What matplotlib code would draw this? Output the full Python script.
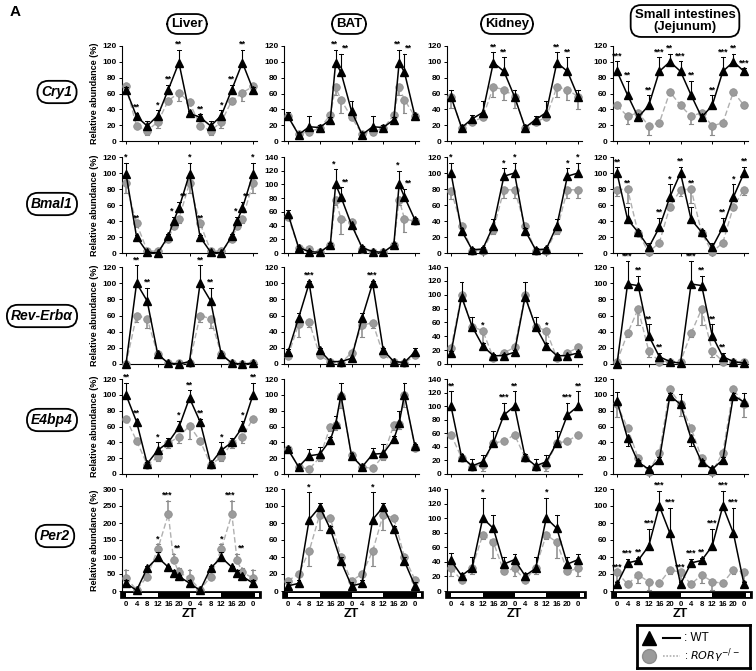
import matplotlib.pyplot as plt
from matplotlib.patches import Rectangle
import matplotlib.transforms as mtransforms

plt.rcParams['font.family'] = ['Liberation Sans', 'DejaVu Sans']

# sampling times (ZT, two days)
X13 = [0, 4, 8, 12, 16, 20, 24, 28, 32, 36, 40, 44, 48]
X15 = [0, 4, 8, 12, 16, 18, 20, 24, 28, 32, 36, 40, 42, 44, 48]
zt_labels = ['0', '4', '8', '12', '16', '20', '0', '4', '8', '12', '16', '20', '0']

tissues = ['Liver', 'BAT', 'Kidney', 'Small intestines\n(Jejunum)']
genes = ['Cry1', 'Bmal1', 'Rev-Erbα', 'E4bp4', 'Per2']

# ---- Cry1 ----
liver_cry1_wt = [65, 31, 19, 32, 65, 99, 35, 30, 19, 32, 65, 99, 65]
liver_cry1_ko = [69, 19, 13, 24, 51, 61, 49, 19, 13, 24, 51, 61, 69]
liver_cry1_ewt = [3, 5, 6, 7, 6, 16, 3, 4, 6, 7, 6, 16, 3]
liver_cry1_eko = [-3, -3, -6, -8, -4, -10, -4, -3, -6, -8, -4, -10, -3]
liver_cry1_stars = {1: '**', 3: '*', 4: '**', 5: '**', 7: '**', 9: '*', 10: '**', 11: '**'}

bat_cry1_wt = [31, 8, 18, 17, 27, 99, 87, 38, 8, 18, 17, 27, 99, 87, 31]
bat_cry1_ko = [31, 9, 12, 16, 33, 68, 52, 30, 9, 12, 16, 33, 68, 52, 31]
bat_cry1_ewt = [6, 3, 13, 3, 3, 16, 23, 13, 3, 13, 3, 3, 16, 23, 3]
bat_cry1_eko = [-3, -3, -5, -3, -3, -10, -16, -3, -3, -5, -3, -3, -10, -16, -3]
bat_cry1_stars = {5: '**', 6: '**', 12: '**', 13: '**'}

kidney_cry1_wt = [56, 17, 28, 36, 99, 88, 56, 17, 27, 36, 99, 88, 56]
kidney_cry1_ko = [56, 17, 24, 30, 68, 65, 56, 17, 24, 30, 68, 65, 56]
kidney_cry1_ewt = [9, 3, 5, 15, 13, 18, 8, 3, 5, 15, 13, 18, 8]
kidney_cry1_eko = [-14, -3, -4, -3, -12, -13, -14, -3, -4, -3, -12, -13, -15]
kidney_cry1_stars = {4: '**', 5: '**', 10: '**', 11: '**'}

jej_cry1_wt = [88, 58, 30, 45, 88, 100, 88, 58, 30, 45, 88, 100, 88]
jej_cry1_ko = [45, 31, 36, 19, 23, 62, 45, 31, 36, 19, 23, 62, 45]
jej_cry1_ewt = [13, 18, 4, 13, 18, 10, 13, 18, 4, 13, 18, 10, 4]
jej_cry1_eko = [-3, -10, -3, -12, -4, -4, -3, -10, -3, -12, -4, -4, -3]
jej_cry1_stars = {0: '***', 1: '**', 3: '**', 4: '***', 5: '**', 6: '***', 7: '**',
                  9: '**', 10: '***', 11: '**', 12: '***'}

# ---- Bmal1 ----
liver_bmal1_wt = [99, 20, 1, 0, 21, 40, 56, 99, 20, 1, 0, 21, 40, 56, 99]
liver_bmal1_ko = [87, 37, 3, 2, 17, 34, 43, 87, 37, 3, 2, 17, 34, 43, 87]
liver_bmal1_ewt = [14, 2, 1, 1, 3, 5, 8, 14, 2, 1, 1, 3, 5, 8, 14]
liver_bmal1_eko = [-12, -4, -2, -1, -3, -4, -5, -12, -4, -2, -1, -3, -4, -5, -12]
liver_bmal1_stars = {0: '*', 1: '**', 5: '*', 6: '**', 7: '*', 8: '**', 12: '*', 13: '**', 14: '*'}

bat_bmal1_wt = [57, 8, 2, 1, 12, 100, 82, 41, 8, 2, 1, 12, 100, 82, 48]
bat_bmal1_ko = [53, 8, 6, 1, 12, 78, 50, 45, 6, 1, 1, 12, 78, 50, 46]
bat_bmal1_ewt = [6, 2, 2, 1, 2, 22, 14, 3, 2, 2, 1, 2, 20, 12, 3]
bat_bmal1_eko = [-3, -2, -2, -1, -2, -8, -22, -6, -2, -1, -1, -2, -8, -20, -3]
bat_bmal1_stars = {5: '*', 6: '**', 12: '*', 13: '**'}

kidney_bmal1_wt = [100, 28, 4, 5, 34, 96, 100, 28, 4, 5, 34, 96, 100]
kidney_bmal1_ko = [78, 34, 3, 3, 29, 79, 79, 34, 3, 3, 29, 79, 79]
kidney_bmal1_ewt = [13, 3, 2, 2, 8, 10, 13, 3, 2, 2, 8, 10, 13]
kidney_bmal1_eko = [-10, -3, -2, -2, -5, -10, -10, -3, -2, -2, -5, -10, -10]
kidney_bmal1_stars = {0: '*', 5: '*', 6: '*', 11: '*', 12: '*'}

jej_bmal1_wt = [100, 42, 26, 7, 32, 70, 100, 42, 26, 7, 32, 70, 100]
jej_bmal1_ko = [79, 80, 25, 1, 13, 58, 79, 80, 25, 1, 13, 58, 79]
jej_bmal1_ewt = [7, 15, 3, 5, 12, 16, 8, 15, 3, 5, 12, 16, 8]
jej_bmal1_eko = [-8, -18, -3, -1, -3, -4, -8, -18, -3, -1, -3, -4, -6]
jej_bmal1_stars = {0: '**', 1: '**', 4: '**', 5: '*', 6: '**', 7: '**', 10: '**', 11: '*', 12: '**'}

# ---- Rev-Erb alpha ----
liver_rev_wt = [0, 100, 78, 12, 1, 0, 3, 100, 78, 12, 1, 0, 1]
liver_rev_ko = [0, 60, 56, 12, 1, 1, 1, 60, 56, 12, 1, 0, 1]
liver_rev_ewt = [1, 22, 16, 2, 1, 1, 2, 22, 16, 2, 1, 1, 2]
liver_rev_eko = [-1, -8, -12, -2, -1, -1, -1, -8, -12, -2, -1, -1, -1]
liver_rev_stars = {1: '**', 2: '**', 7: '**', 8: '**'}

bat_rev_wt = [15, 57, 100, 17, 3, 3, 7, 57, 100, 17, 3, 2, 15]
bat_rev_ko = [10, 49, 52, 11, 2, 1, 14, 48, 51, 12, 2, 1, 11]
bat_rev_ewt = [4, 6, 3, 3, 1, 1, 2, 6, 3, 3, 1, 1, 5]
bat_rev_eko = [-3, -15, -6, -3, -1, -1, -3, -15, -6, -3, -1, -1, -3]
bat_rev_stars = {2: '***', 8: '***'}

kidney_rev_wt = [16, 97, 54, 26, 12, 12, 17, 97, 54, 26, 12, 12, 16]
kidney_rev_ko = [23, 99, 54, 48, 9, 16, 24, 99, 54, 48, 9, 16, 24]
kidney_rev_ewt = [3, 22, 14, 4, 2, 2, 3, 22, 14, 4, 2, 2, 3]
kidney_rev_eko = [-3, -5, -3, -18, -3, -2, -3, -5, -3, -18, -3, -2, -3]
kidney_rev_stars = {3: '*', 9: '*'}

jej_rev_wt = [0, 99, 97, 35, 9, 3, 1, 99, 97, 35, 9, 3, 1]
jej_rev_ko = [3, 38, 68, 16, 3, 3, 3, 38, 68, 16, 3, 3, 3]
jej_rev_ewt = [1, 28, 12, 14, 5, 2, 1, 28, 12, 14, 5, 2, 1]
jej_rev_eko = [-1, -5, -20, -7, -2, -1, -1, -5, -20, -7, -2, -1, -1]
jej_rev_stars = {1: '***', 2: '**', 3: '**', 4: '**', 7: '***', 8: '**', 9: '**', 10: '**'}

# ---- E4bp4 ----
liver_e4_wt = [100, 66, 13, 30, 40, 59, 96, 66, 13, 30, 40, 59, 100]
liver_e4_ko = [70, 42, 12, 21, 39, 47, 61, 42, 12, 21, 39, 47, 70]
liver_e4_ewt = [15, 4, 2, 10, 5, 8, 10, 4, 2, 10, 5, 8, 15]
liver_e4_eko = [-3, -3, -2, -5, -6, -8, -17, -3, -2, -5, -6, -8, -3]
liver_e4_stars = {0: '**', 1: '**', 3: '*', 5: '*', 6: '**', 7: '**', 9: '*', 11: '*', 12: '**'}

bat_e4_wt = [31, 9, 23, 25, 43, 63, 100, 23, 9, 25, 26, 44, 64, 100, 35]
bat_e4_ko = [32, 9, 6, 21, 60, 62, 98, 24, 9, 7, 23, 62, 63, 100, 33]
bat_e4_ewt = [3, 2, 9, 9, 4, 10, 15, 3, 2, 8, 12, 4, 15, 15, 3]
bat_e4_eko = [-3, -2, -2, -5, -6, -6, -15, -3, -2, -2, -5, -6, -6, -15, -3]
bat_e4_stars = {}

kidney_e4_wt = [100, 25, 12, 18, 46, 87, 100, 25, 12, 18, 46, 87, 100]
kidney_e4_ko = [58, 24, 11, 14, 46, 48, 58, 24, 11, 14, 46, 48, 58]
kidney_e4_ewt = [22, 5, 10, 10, 18, 18, 22, 5, 10, 10, 18, 18, 22]
kidney_e4_eko = [-3, -3, -3, -10, -3, -3, -3, -3, -3, -10, -3, -3, -3]
kidney_e4_stars = {0: '**', 5: '***', 6: '**', 11: '***', 12: '**'}

jej_e4_wt = [92, 45, 15, 6, 18, 99, 88, 45, 15, 6, 18, 99, 91]
jej_e4_ko = [88, 58, 20, 3, 27, 107, 88, 58, 20, 3, 27, 107, 88]
jej_e4_ewt = [11, -10, 3, 3, 3, 3, 13, -10, 3, 3, 3, 3, 11]
jej_e4_eko = [-16, 3, -3, -2, -3, -3, -15, 3, -3, -2, -3, -3, -16]
jej_e4_stars = {}

# ---- Per2 ----
liver_per2_wt = [23, 2, 67, 99, 70, 53, 43, 23, 2, 67, 99, 70, 53, 43, 23]
liver_per2_ko = [38, 4, 42, 123, 226, 90, 55, 38, 4, 42, 123, 226, 90, 55, 38]
liver_per2_ewt = [8, 2, 8, 15, 5, 8, 5, 8, 2, 8, 15, 5, 8, 5, 8]
liver_per2_eko = [25, 2, -8, 15, 40, 20, 12, 25, 2, -8, 15, 40, 20, 12, 25]
liver_per2_stars = {3: '*', 4: '***', 5: '**', 10: '*', 11: '***', 12: '**'}

bat_per2_wt = [6, 9, 84, 99, 73, 35, 6, 9, 84, 99, 73, 35, 6]
bat_per2_ko = [12, 20, 47, 90, 86, 40, 12, 20, 47, 90, 86, 40, 13]
bat_per2_ewt = [5, 4, 32, 5, 4, 5, 5, 4, 32, 5, 4, 5, 5]
bat_per2_eko = [-3, -3, -18, -18, -4, -4, -3, -3, -18, -18, -4, -4, -3]
bat_per2_stars = {2: '*', 8: '*'}

kidney_per2_wt = [42, 21, 32, 100, 86, 37, 43, 21, 31, 100, 86, 37, 43]
kidney_per2_ko = [31, 15, 32, 77, 67, 27, 31, 15, 32, 77, 67, 27, 31]
kidney_per2_ewt = [10, 4, 15, 28, 18, 10, 8, 4, 15, 28, 18, 10, 8]
kidney_per2_eko = [-10, -3, -8, -5, -22, -4, -10, -3, -8, -5, -22, -4, -10]
kidney_per2_stars = {3: '*', 9: '*'}

jej_per2_wt = [8, 33, 36, 53, 100, 68, 8, 33, 36, 53, 100, 68, 8]
jej_per2_ko = [22, 8, 19, 11, 9, 25, 22, 8, 19, 11, 9, 25, 22]
jej_per2_ewt = [3, 5, 3, 20, 18, 30, 3, 5, 3, 20, 18, 30, 3]
jej_per2_eko = [-10, -3, -10, -10, -3, -5, -10, -3, -10, -10, -3, -5, -10]
jej_per2_stars = {0: '***', 1: '***', 2: '**', 3: '***', 4: '***', 5: '***', 6: '***',
                  7: '***', 8: '**', 9: '***', 10: '***', 11: '***'}

# y-axis top per panel (rows = genes, cols = tissues)
ymax = [[120, 120, 120, 120],
        [120, 140, 120, 120],
        [120, 120, 140, 120],
        [120, 120, 140, 120],
        [300, 120, 140, 120]]

panels = [
    [(X13, liver_cry1_wt, liver_cry1_ko, liver_cry1_ewt, liver_cry1_eko, liver_cry1_stars),
     (X15, bat_cry1_wt, bat_cry1_ko, bat_cry1_ewt, bat_cry1_eko, bat_cry1_stars),
     (X13, kidney_cry1_wt, kidney_cry1_ko, kidney_cry1_ewt, kidney_cry1_eko, kidney_cry1_stars),
     (X13, jej_cry1_wt, jej_cry1_ko, jej_cry1_ewt, jej_cry1_eko, jej_cry1_stars)],
    [(X15, liver_bmal1_wt, liver_bmal1_ko, liver_bmal1_ewt, liver_bmal1_eko, liver_bmal1_stars),
     (X15, bat_bmal1_wt, bat_bmal1_ko, bat_bmal1_ewt, bat_bmal1_eko, bat_bmal1_stars),
     (X13, kidney_bmal1_wt, kidney_bmal1_ko, kidney_bmal1_ewt, kidney_bmal1_eko, kidney_bmal1_stars),
     (X13, jej_bmal1_wt, jej_bmal1_ko, jej_bmal1_ewt, jej_bmal1_eko, jej_bmal1_stars)],
    [(X13, liver_rev_wt, liver_rev_ko, liver_rev_ewt, liver_rev_eko, liver_rev_stars),
     (X13, bat_rev_wt, bat_rev_ko, bat_rev_ewt, bat_rev_eko, bat_rev_stars),
     (X13, kidney_rev_wt, kidney_rev_ko, kidney_rev_ewt, kidney_rev_eko, kidney_rev_stars),
     (X13, jej_rev_wt, jej_rev_ko, jej_rev_ewt, jej_rev_eko, jej_rev_stars)],
    [(X13, liver_e4_wt, liver_e4_ko, liver_e4_ewt, liver_e4_eko, liver_e4_stars),
     (X15, bat_e4_wt, bat_e4_ko, bat_e4_ewt, bat_e4_eko, bat_e4_stars),
     (X13, kidney_e4_wt, kidney_e4_ko, kidney_e4_ewt, kidney_e4_eko, kidney_e4_stars),
     (X13, jej_e4_wt, jej_e4_ko, jej_e4_ewt, jej_e4_eko, jej_e4_stars)],
    [(X15, liver_per2_wt, liver_per2_ko, liver_per2_ewt, liver_per2_eko, liver_per2_stars),
     (X13, bat_per2_wt, bat_per2_ko, bat_per2_ewt, bat_per2_eko, bat_per2_stars),
     (X13, kidney_per2_wt, kidney_per2_ko, kidney_per2_ewt, kidney_per2_eko, kidney_per2_stars),
     (X13, jej_per2_wt, jej_per2_ko, jej_per2_ewt, jej_per2_eko, jej_per2_stars)],
]

W, H = 756, 671
fig = plt.figure(figsize=(W / 100, H / 100), dpi=100)

def px_axes(left, top, width, height):
    return fig.add_axes([left / W, 1 - (top + height) / H, width / W, height / H])

col_x0 = [126, 288, 451, 617]      # pixel of ZT0
row_y = [(141, 46), (253, 157), (364, 267), (474, 379), (591, 489)]  # (zero, top)
pxu = 127 / 48.0

KO_C = '#9b9b9b'
KO_LINE = '#b0b0b0'


def draw_panel(ax, x, wt, ko, ewt, eko, stars, top, last_row):
    cap = 0.7
    # KO series
    ax.plot(x, ko, color=KO_LINE, lw=1.0, ls=(0, (4, 2)), zorder=2, clip_on=False)
    for xi, v, e in zip(x, ko, eko):
        ax.plot([xi, xi], [v, v + e], color='#8a8a8a', lw=1.1, zorder=2, clip_on=False)
        ax.plot([xi - cap, xi + cap], [v + e, v + e], color='#8a8a8a', lw=0.8, zorder=2, clip_on=False)
    ax.plot(x, ko, 'o', ms=5.5, color=KO_C, mec='#8c8c8c', mew=0.5, zorder=3, clip_on=False)
    # WT series
    ax.plot(x, wt, color='black', lw=1.1, zorder=4, clip_on=False)
    for xi, v, e in zip(x, wt, ewt):
        ax.plot([xi, xi], [v, v + e], color='black', lw=0.8, zorder=4, clip_on=False)
        ax.plot([xi - cap, xi + cap], [v + e, v + e], color='black', lw=0.7, zorder=4, clip_on=False)
    ax.plot(x, wt, '^', ms=5.5, color='black', zorder=5, clip_on=False)
    # significance marks; nudge a mark sideways when its neighbour is only 2 h away
    for i, s in stars.items():
        hi = max(wt[i] + max(ewt[i], 0), ko[i] + max(eko[i], 0), wt[i], ko[i])
        dx = 0
        if i + 1 < len(x) and (i + 1) in stars and x[i + 1] - x[i] <= 2:
            dx = -0.6
        if i > 0 and (i - 1) in stars and x[i] - x[i - 1] <= 2:
            dx = 1.6
        ax.text(x[i] + dx, hi + top * 0.01, s, ha='center', va='bottom', fontsize=6.5,
                fontweight='bold', zorder=6)

    ax.set_xlim(-1.5, 49.5)
    ax.set_ylim(0, top)
    step = 50 if top == 300 else 20
    ax.set_yticks(range(0, top + 1, step))
    for sp in ['top', 'right']:
        ax.spines[sp].set_visible(False)
    ax.spines['left'].set_linewidth(0.8)
    ax.spines['bottom'].set_linewidth(0.8)
    ax.tick_params(axis='y', length=2.5, width=0.7, pad=1.5, labelsize=6)
    for lab in ax.get_yticklabels():
        lab.set_fontweight('bold')
    if not last_row:
        ax.set_xticks([0, 12, 24, 36, 48])
        ax.set_xticklabels([])
        ax.tick_params(axis='x', length=2.5, width=0.7)
    else:
        ax.spines['bottom'].set_visible(False)
        ax.set_xticks(X13)
        ax.set_xticklabels(zt_labels)
        ax.tick_params(axis='x', length=0, pad=7, labelsize=5.6)
        for lab in ax.get_xticklabels():
            lab.set_fontweight('bold')
        ax.set_xlabel('ZT', fontsize=9, fontweight='bold', labelpad=0)
        trans = mtransforms.blended_transform_factory(ax.transData, ax.transAxes)
        ax.add_patch(Rectangle((-2.4, -0.072), 53.4, 0.072, transform=trans,
                               facecolor='black', edgecolor='black', lw=0.5, clip_on=False))
        for a, b in [(0, 12), (24, 36), (48.8, 50.2)]:
            ax.add_patch(Rectangle((a, -0.058), b - a, 0.042, transform=trans,
                                   facecolor='white', edgecolor='none', clip_on=False, zorder=3))


for r in range(5):
    y0, y1 = row_y[r]
    for c in range(4):
        ax = px_axes(col_x0[c] - 1.5 * pxu, y1, 51 * pxu, y0 - y1)
        x, wt, ko, ewt, eko, stars = panels[r][c]
        draw_panel(ax, x, wt, ko, ewt, eko, stars, ymax[r][c], r == 4)
        if c == 0:
            ax.set_ylabel('Relative abundance (%)', fontsize=6.5, fontweight='bold', labelpad=2)

# column titles
title_pos = [(187, 24), (349, 24), (507, 24), (685, 21)]
for name, (tx, ty) in zip(tissues, title_pos):
    fig.text(tx / W, 1 - ty / H, name, ha='center', va='center', fontsize=9.5,
             fontweight='bold', linespacing=1.0,
             bbox=dict(boxstyle='round,pad=0.3,rounding_size=0.8', fc='white', ec='black', lw=1.3))

# row labels
row_pos = [(57, 92), (52, 204), (42, 316), (52, 420), (55, 536)]
for name, (tx, ty) in zip(genes, row_pos):
    fig.text(tx / W, 1 - ty / H, name, ha='center', va='center', fontsize=10,
             fontweight='bold', style='italic',
             bbox=dict(boxstyle='round,pad=0.3,rounding_size=0.8', fc='white', ec='black', lw=1.3))

fig.text(10 / W, 1 - 12 / H, 'A', ha='left', va='center', fontsize=11, fontweight='bold')

# legend box
lg = px_axes(637, 625, 113, 43)
lg.set_xlim(0, 1)
lg.set_ylim(0, 1)
lg.set_xticks([])
lg.set_yticks([])
for sp in lg.spines.values():
    sp.set_linewidth(2)
lg.plot([0.11], [0.7], '^', ms=10, color='black')
lg.plot([0.23, 0.38], [0.7, 0.7], color='black', lw=1.5)
lg.text(0.42, 0.7, ': WT', fontsize=8.5, va='center')
lg.plot([0.11], [0.28], 'o', ms=10, color=KO_C, mec='#8c8c8c')
lg.plot([0.23, 0.38], [0.28, 0.28], color=KO_LINE, lw=1.2, ls=(0, (1, 1)))
lg.text(0.42, 0.28, ': $\\mathit{ROR\\gamma}^{-/-}$', fontsize=8, va='center')

fig.savefig('out.png', dpi=100)
